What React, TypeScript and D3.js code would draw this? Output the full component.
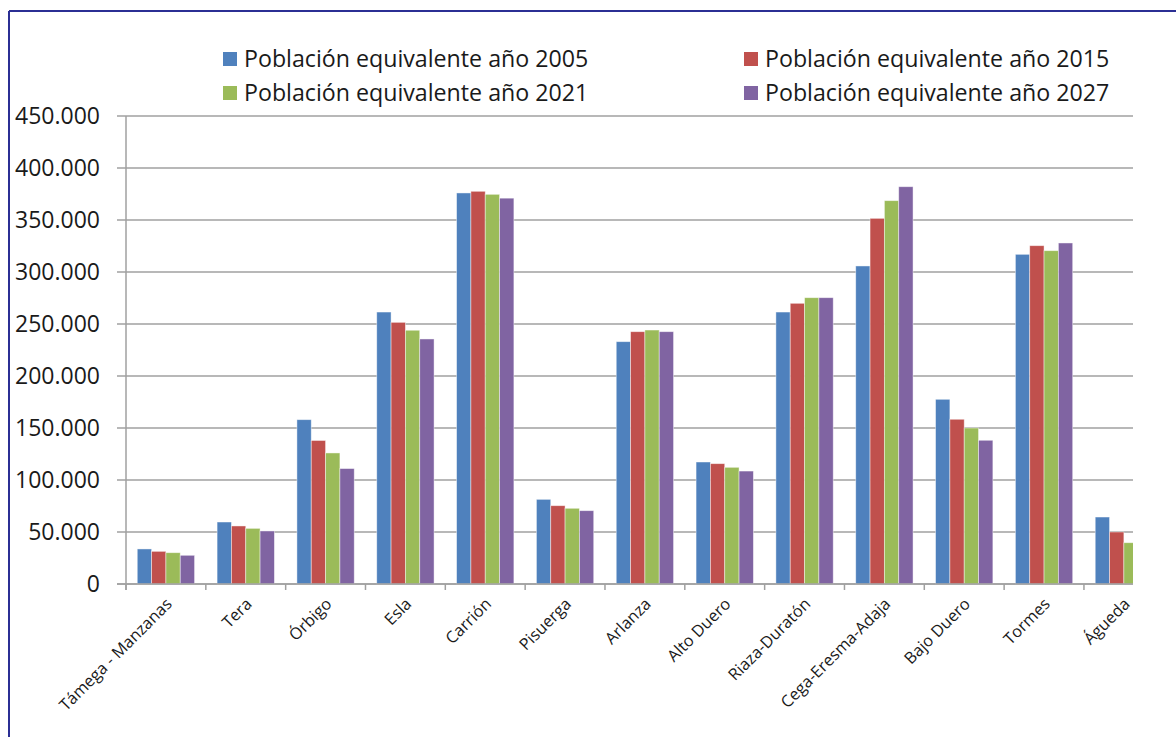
import React from "react";
import * as d3 from "d3";

const categories = [
  "Támega - Manzanas", "Tera", "Órbigo", "Esla", "Carrión", "Pisuerga", "Arlanza",
  "Alto Duero", "Riaza-Duratón", "Cega-Eresma-Adaja", "Bajo Duero", "Tormes", "Águeda",
];
const seriesNames = [
  "Población equivalente año 2005",
  "Población equivalente año 2015",
  "Población equivalente año 2021",
  "Población equivalente año 2027",
];
const values2005 = [33700, 59600, 158000, 261500, 376000, 81400, 233000, 117300, 261500, 305800, 177600, 317000, 64400];
const values2015 = [31400, 55800, 138000, 251600, 377600, 75300, 242600, 115700, 269900, 351600, 158400, 325300, 50000];
const values2021 = [30100, 53500, 126000, 244000, 374700, 72800, 244200, 112200, 275300, 368600, 150000, 320500, 39700];
const values2027 = [27600, 51000, 111000, 235600, 371000, 70500, 242600, 108600, 275300, 382000, 138200, 327900, 35000];
const yTicks = [0, 50000, 100000, 150000, 200000, 250000, 300000, 350000, 400000, 450000];
const colors = ["#4F81BD", "#C0504D", "#9BBB59", "#8064A2"];

const allSeries = [values2005, values2015, values2021, values2027];

const W = 1176;
const H = 737;
const plotLeft = 126;
const plotRight = 1133;
const plotTop = 116;
const plotBottom = 584;
const step = 79.83;
const FONT = "'Open Sans', 'Noto Sans', sans-serif";

const locale = d3.formatLocale({ decimal: ",", thousands: ".", grouping: [3], currency: ["", "€"] });
const fmt = locale.format(",d");

export default function App() {
  const x0 = d3
    .scaleBand<string>()
    .domain(categories)
    .range([plotLeft, plotLeft + step * categories.length])
    .paddingInner(0.282)
    .paddingOuter(0.141);
  const x1 = d3
    .scaleBand<number>()
    .domain(d3.range(seriesNames.length))
    .range([0, x0.bandwidth()]);
  const y = d3.scaleLinear().domain([0, 450000]).range([plotBottom, plotTop]);

  const boundaries = d3.range(categories.length + 1).map((i) => plotLeft + i * step);

  const legendPos = [
    { x: 223, y: 59 },
    { x: 744, y: 59 },
    { x: 223, y: 93 },
    { x: 744, y: 93 },
  ];

  return (
    <svg
      width={W}
      height={H}
      style={{ position: "absolute", left: 0, top: 0, background: "#fff" }}
      fontFamily={FONT}
    >
      <defs>
        <clipPath id="plotClip">
          <rect x={plotLeft - 12} y={0} width={plotRight - plotLeft + 12} height={H} />
        </clipPath>
      </defs>
      <rect x={0} y={0} width={W} height={H} fill="#fff" />
      {/* outer border (left & top visible) */}
      <line x1={9} y1={11} x2={W} y2={11} stroke="#2B2F94" strokeWidth={2} />
      <line x1={9} y1={11} x2={9} y2={H} stroke="#2B2F94" strokeWidth={2} />

      {/* gridlines */}
      {yTicks.map((t) => (
        <line
          key={"g" + t}
          x1={plotLeft - 9}
          x2={plotRight}
          y1={y(t)}
          y2={y(t)}
          stroke="#A0A0A0"
          strokeWidth={1.5}
        />
      ))}
      {/* y tick labels */}
      {yTicks.map((t) => (
        <text
          key={"yl" + t}
          x={100}
          y={y(t)}
          dy="0.36em"
          textAnchor="end"
          fontSize={23}
          fill="#1a1a1a"
        >
          {fmt(t)}
        </text>
      ))}
      {/* y axis */}
      <line x1={plotLeft} x2={plotLeft} y1={plotTop} y2={plotBottom + 6} stroke="#A0A0A0" strokeWidth={1.5} />
      {/* x ticks */}
      {boundaries
        .filter((b) => b <= plotRight)
        .map((b, i) => (
          <line key={"xt" + i} x1={b} x2={b} y1={plotBottom} y2={plotBottom + 6} stroke="#A0A0A0" strokeWidth={1.5} />
        ))}

      {/* bars */}
      <g clipPath="url(#plotClip)">
        {categories.map((c, ci) => (
          <g key={c} transform={`translate(${x0(c)},0)`}>
            {allSeries.map((s, si) => (
              <rect
                key={si}
                x={x1(si)}
                y={y(s[ci])}
                width={x1.bandwidth()}
                height={plotBottom - y(s[ci])}
                fill={colors[si]}
                stroke="rgba(255,255,255,0.55)"
                strokeWidth={0.8}
              />
            ))}
          </g>
        ))}
      </g>
      {/* x axis line */}
      <line x1={plotLeft - 9} x2={plotRight} y1={plotBottom} y2={plotBottom} stroke="#A0A0A0" strokeWidth={1.5} />

      {/* x labels */}
      {categories.map((c) => {
        const cx = (x0(c) as number) + x0.bandwidth() / 2 + 3;
        const cy = plotBottom + 17;
        return (
          <text
            key={"xl" + c}
            transform={`translate(${cx},${cy}) rotate(-45)`}
            textAnchor="end"
            fontSize={16.3}
            fill="#1a1a1a"
            dy="0.35em"
          >
            {c}
          </text>
        );
      })}

      {/* legend */}
      {seriesNames.map((n, i) => (
        <g key={n} transform={`translate(${legendPos[i].x},${legendPos[i].y})`}>
          <rect x={0} y={-7} width={14} height={14} fill={colors[i]} />
          <text x={21} y={0} dy="0.36em" fontSize={23.2} fill="#1a1a1a">
            {n}
          </text>
        </g>
      ))}
    </svg>
  );
}
